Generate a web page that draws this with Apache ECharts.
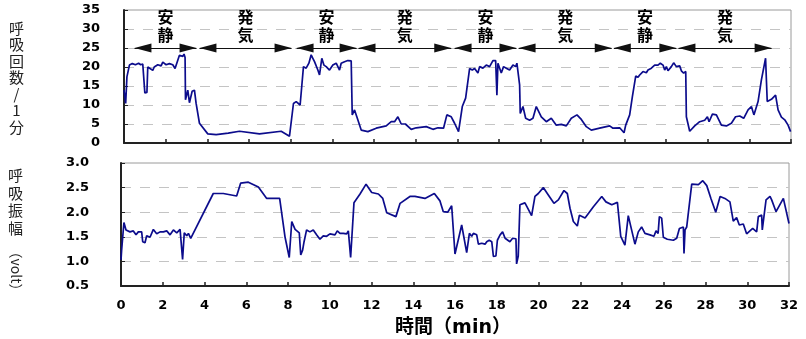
<!DOCTYPE html>
<html><head><meta charset="utf-8">
<script src="https://cdn.jsdelivr.net/npm/echarts@6/dist/echarts.min.js"></script>
<style>html,body{margin:0;padding:0;background:#fff}#c{width:806px;height:339px}</style>
</head><body><div id="c"></div>
<script>
// ---- data ----
const xTicks = [0,2,4,6,8,10,12,14,16,18,20,22,24,26,28,30,32];
const rateTicks = [0,5,10,15,20,25,30,35];
const ampTicks = [0.5,1.0,1.5,2.0,2.5,3.0];

// respiration rate (breaths / min) : [time(min), value]
const rateSeries = [
[0,13.9],[0.08,10.4],[0.14,17.4],[0.26,20.5],[0.4,20.9],[0.55,20.6],[0.7,21.0],[0.8,20.6],[0.9,20.8],[1.0,13.2],[1.1,13.3],[1.14,20.0],
[1.25,19.6],[1.38,19.1],[1.45,20.0],[1.54,20.0],[1.62,20.6],[1.7,20.9],[1.78,20.3],[1.86,21.3],[1.94,20.8],[2.02,20.6],[2.1,21.0],[2.18,20.9],
[2.26,20.5],[2.34,20.6],[2.45,19.6],[2.58,21.8],[2.66,23.1],[2.74,23.6],[2.82,22.8],[2.88,23.4],[2.93,22.5],[2.95,11.4],[3.06,13.9],[3.14,10.6],
[3.27,13.6],[3.38,13.9],[3.46,10.4],[3.62,5.2],[4.02,2.4],[4.42,2.2],[5.0,2.6],[5.54,3.1],[6.5,2.4],[7.54,3.1],[7.94,1.8],[8.13,10.4],
[8.26,10.9],[8.45,10.0],[8.61,20.1],[8.74,19.7],[8.87,21.0],[8.98,23.2],[9.06,22.3],[9.14,21.4],[9.3,19.2],[9.38,17.9],[9.49,22.3],[9.59,20.5],
[9.7,20.1],[9.86,19.2],[10.02,20.5],[10.18,21.0],[10.34,19.2],[10.42,21.0],[10.58,21.4],[10.74,21.7],[10.9,21.6],[10.95,7.4],[11.06,8.7],[11.17,6.9],
[11.38,3.4],[11.7,3.0],[12.1,3.9],[12.58,4.5],[12.82,5.6],[12.98,5.6],[13.14,6.9],[13.3,5.0],[13.5,5.0],[13.78,3.6],[14.02,4.0],[14.5,4.3],
[14.82,3.6],[15.06,4.0],[15.33,3.9],[15.49,7.4],[15.7,6.9],[15.86,5.2],[16.05,3.0],[16.23,9.6],[16.39,11.8],[16.58,19.6],[16.71,19.2],[16.82,19.6],
[16.98,18.4],[17.06,20.1],[17.22,19.7],[17.38,20.5],[17.54,20.1],[17.7,21.7],[17.83,21.7],[17.89,12.6],[17.94,21.0],[18.02,21.0],[18.1,18.4],[18.21,20.1],
[18.34,19.7],[18.5,19.2],[18.66,20.5],[18.79,20.1],[18.85,21.0],[18.98,15.3],[19.01,7.8],[19.14,9.6],[19.27,6.5],[19.46,6.0],[19.62,6.5],[19.78,9.6],
[20.02,6.9],[20.26,5.6],[20.5,6.5],[20.74,4.7],[20.98,4.9],[21.22,4.5],[21.46,6.5],[21.73,7.4],[21.94,6.2],[22.18,4.3],[22.42,3.4],[22.82,3.9],
[23.3,4.5],[23.46,3.9],[23.78,4.0],[23.99,2.7],[24.07,4.7],[24.26,7.4],[24.39,12.2],[24.55,17.6],[24.66,17.3],[24.74,17.9],[24.9,18.8],[25.06,18.5],
[25.14,19.2],[25.3,19.7],[25.46,20.5],[25.62,20.5],[25.73,21.0],[25.86,20.5],[25.94,19.2],[26.02,20.1],[26.1,19.0],[26.26,20.1],[26.37,21.1],[26.5,20.1],
[26.66,20.3],[26.74,19.0],[26.85,18.4],[26.95,18.8],[26.98,6.9],[27.14,3.1],[27.38,4.5],[27.62,5.6],[27.86,6.0],[27.99,6.9],[28.07,5.6],[28.23,7.6],
[28.42,7.4],[28.66,4.7],[28.9,4.5],[29.14,5.2],[29.34,6.9],[29.54,7.1],[29.73,6.5],[29.94,8.7],[30.1,9.6],[30.22,7.4],[30.42,10.9],[30.5,11.3],
[30.58,16.6],[30.78,22.3],[30.86,10.9],[31.06,11.5],[31.26,12.6],[31.38,8.7],[31.54,6.8],[31.7,6.1],[31.86,4.7],[31.98,3.0]
];

// respiration amplitude (volt) : [time(min), value]
const ampSeries = [
[0,1.03],[0.03,1.23],[0.14,1.79],[0.24,1.64],[0.43,1.60],[0.59,1.62],[0.72,1.54],[0.83,1.60],[0.99,1.60],[1.04,1.40],[1.15,1.38],[1.23,1.52],
[1.39,1.49],[1.55,1.65],[1.71,1.56],[1.87,1.60],[2.03,1.60],[2.19,1.62],[2.35,1.54],[2.51,1.64],[2.67,1.58],[2.83,1.65],[2.91,1.64],[2.95,1.04],
[3.03,1.58],[3.15,1.52],[3.23,1.57],[3.34,1.47],[4.42,2.38],[4.9,2.38],[5.54,2.33],[5.73,2.59],[6.1,2.61],[6.58,2.51],[6.98,2.28],[7.6,2.28],
[7.86,1.49],[8.06,1.08],[8.18,1.81],[8.34,1.65],[8.54,1.58],[8.61,1.13],[8.7,1.23],[8.77,1.40],[8.89,1.64],[9.05,1.60],[9.21,1.64],[9.37,1.54],
[9.53,1.45],[9.69,1.52],[9.85,1.51],[10.01,1.56],[10.25,1.54],[10.36,1.62],[10.49,1.57],[10.65,1.57],[10.81,1.56],[10.89,1.62],[11.0,1.08],[11.16,2.19],
[11.45,2.37],[11.74,2.57],[12.01,2.40],[12.33,2.37],[12.54,2.28],[12.73,1.99],[13.17,1.91],[13.37,2.18],[13.84,2.32],[14.08,2.32],[14.56,2.28],[15.01,2.38],
[15.28,2.23],[15.44,2.01],[15.65,2.0],[15.84,2.13],[16.0,1.15],[16.32,1.74],[16.56,1.18],[16.69,1.57],[16.8,1.51],[16.88,1.57],[17.04,1.54],[17.12,1.35],
[17.28,1.37],[17.44,1.35],[17.52,1.40],[17.64,1.43],[17.76,1.40],[17.84,1.10],[17.96,1.11],[18.03,1.43],[18.16,1.54],[18.28,1.60],[18.4,1.47],[18.63,1.40],
[18.76,1.47],[18.92,1.46],[18.95,0.95],[19.03,1.11],[19.11,2.15],[19.35,2.19],[19.67,1.93],[19.83,2.32],[19.99,2.38],[20.23,2.50],[20.47,2.35],[20.74,2.18],
[20.95,2.25],[21.22,2.44],[21.38,2.38],[21.51,2.08],[21.67,1.81],[21.86,1.72],[21.96,1.94],[22.23,1.88],[22.63,2.11],[23.03,2.32],[23.23,2.21],[23.51,2.15],
[23.78,2.20],[23.94,1.51],[24.03,1.47],[24.14,1.33],[24.3,1.93],[24.46,1.64],[24.62,1.35],[24.78,1.60],[24.94,1.70],[25.02,1.70],[25.1,1.57],[25.34,1.54],
[25.53,1.51],[25.63,1.62],[25.73,1.57],[25.79,1.91],[25.9,1.88],[25.98,1.49],[26.17,1.45],[26.46,1.43],[26.62,1.47],[26.75,1.67],[26.94,1.70],[26.97,1.16],
[27.02,1.64],[27.1,1.70],[27.34,2.57],[27.66,2.56],[27.87,2.64],[28.06,2.54],[28.26,2.28],[28.49,2.0],[28.7,2.32],[28.93,2.28],[29.17,2.21],[29.33,1.82],
[29.49,1.89],[29.62,1.74],[29.81,1.76],[29.97,1.56],[30.26,1.67],[30.45,1.60],[30.53,1.91],[30.69,1.94],[30.72,1.64],[30.9,2.25],[31.09,2.32],[31.17,2.25],
[31.38,2.01],[31.73,2.28],[32.0,1.77]
];

// phase annotations (arrow tips, minutes)
const phaseStart = [0.5, 3.62, 8.28, 11.25, 15.86, 18.93, 23.5, 26.6];
const phaseEnd   = [3.48, 8.04, 11.16, 15.7, 18.83, 23.4, 26.5, 31.07];
const phaseLabel = ['安静','発気','安静','発気','安静','発気','安静','発気'];
const arrowLevel = 25;

// ---- chart ----
const NUM_FONT = 'DejaVu Sans';
const CJK_FONT = '"Noto Sans CJK JP", sans-serif';
const LINE_COLOR = '#0c0c8c';

const chart = echarts.init(document.getElementById('c'), null, {renderer: 'canvas'});

function valueX(gridIndex, showLabels) {
  return {
    type: 'value', gridIndex, min: xTicks[0], max: xTicks[xTicks.length-1], interval: 2,
    axisLine: {show: true, onZero: false, lineStyle: {color: '#222', width: 2}},
    axisTick: {show: true, inside: true, length: 4, lineStyle: {color: '#222', width: 1.5}},
    axisLabel: {show: showLabels, margin: 13, color: '#000', fontFamily: NUM_FONT, fontWeight: 'bold', fontSize: 13},
    splitLine: {show: false}
  };
}
function valueY(gridIndex, ticks, margin, fmt) {
  return {
    type: 'value', gridIndex, min: ticks[0], max: ticks[ticks.length-1], interval: ticks[1]-ticks[0],
    axisLine: {show: true, lineStyle: {color: '#222', width: 2}},
    axisTick: {show: true, inside: true, length: 4, lineStyle: {color: '#222', width: 1}},
    axisLabel: {margin, color: '#000', fontFamily: NUM_FONT, fontWeight: 'bold', fontSize: 13, formatter: fmt},
    splitLine: {show: true, showMinLine: false, showMaxLine: false, lineStyle: {color: '#c4c4c4', type: [10, 9], width: 1}}
  };
}

const option = {
  animation: false,
  backgroundColor: '#fff',
  grid: [
    {left: 124, right: 15, top: 10, bottom: 196, show: true, borderColor: '#9a9a9a', borderWidth: 1, backgroundColor: 'transparent'},
    {left: 121, right: 17, top: 163, bottom: 53, show: true, borderColor: '#9a9a9a', borderWidth: 1, backgroundColor: 'transparent'}
  ],
  xAxis: [valueX(0, false), valueX(1, true)],
  yAxis: [
    valueY(0, rateTicks, 24, v => String(v)),
    valueY(1, ampTicks, 32, v => v.toFixed(1))
  ],
  series: [
    {
      type: 'line', xAxisIndex: 0, yAxisIndex: 0, data: rateSeries, showSymbol: false, symbol: 'none',
      lineStyle: {color: LINE_COLOR, width: 1.7}, z: 3,
      markLine: {
        silent: true,
        symbol: ['triangle', 'triangle'],
        symbolSize: [9, 17],
        symbolOffset: [[0, 8.5], [0, 8.5]],
        lineStyle: {color: '#111', width: 1.2, type: 'solid'},
        itemStyle: {color: '#000'},
        label: {show: true, position: 'insideMiddleTop', distance: 4, formatter: '{b}',
                color: '#000', fontFamily: CJK_FONT, fontWeight: 'bold', fontSize: 16, lineHeight: 18},
        emphasis: {disabled: true},
        data: phaseStart.map((s, i) => [
          {coord: [s, arrowLevel], name: phaseLabel[i].split('').join('\n')},
          {coord: [phaseEnd[i], arrowLevel]}
        ])
      }
    },
    {
      type: 'line', xAxisIndex: 1, yAxisIndex: 1, data: ampSeries, showSymbol: false, symbol: 'none',
      lineStyle: {color: LINE_COLOR, width: 1.7}, z: 3
    }
  ],
  graphic: [
    {type: 'text', left: 9, top: 20, style: {text: '呼\n吸\n回\n数\n/\n1\n分', fill: '#222', font: '15px "Noto Sans CJK JP"', lineHeight: 16.5, textAlign: 'center'}},
    {type: 'text', left: 8, top: 167, style: {text: '呼\n吸\n振\n幅', fill: '#222', font: '15px "Noto Sans CJK JP"', lineHeight: 17.5, textAlign: 'center'}},
    {type: 'text', x: 16, y: 271, rotation: -Math.PI/2, style: {text: '（volt）', fill: '#222', font: '14px "Noto Sans CJK JP"', textAlign: 'center', textVerticalAlign: 'middle'}},
    {type: 'text', x: 453, y: 328, style: {text: '時間（min）', fill: '#000', font: 'bold 19px "DejaVu Sans", "Noto Sans CJK JP"', textAlign: 'center', textVerticalAlign: 'middle'}}
  ]
};
chart.setOption(option);
</script>
</body></html>
